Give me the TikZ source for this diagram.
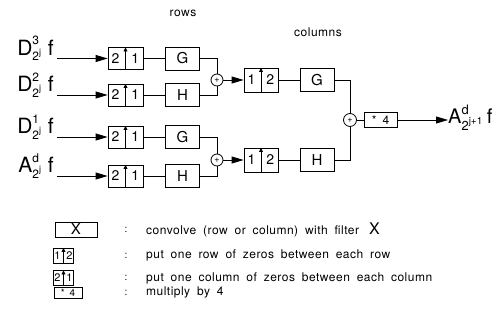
\documentclass[tikz,border=0pt]{standalone}
\usepackage{amsmath}
\usepackage{fontspec}
\setmainfont{TeX Gyre Heros}
\newfontfamily\legendfont[LetterSpace=4, WordSpace=1.8]{TeX Gyre Heros}
\usepackage{tikz}
\usetikzlibrary{shapes.geometric, arrows.meta}
\DeclareMathSizes{21}{21}{12}{9}
\DeclareMathSizes{20}{20}{13}{10}

\newcommand{\bandlab}[2]{{\fontsize{21}{21}\selectfont$\text{#1}^{\text{#2}}_{\text{2}^{\text{j}}}\ \text{f}$}}

\tikzstyle{filt} = [rectangle, draw=black, line width=0.8pt, minimum width=34pt, minimum height=23pt, inner sep=0pt, font=\fontsize{15}{15}\selectfont]
\tikzstyle{upbox} = [rectangle, draw=black, line width=0.8pt, minimum width=35pt, minimum height=22pt, inner sep=0pt, font=\fontsize{14}{14}\selectfont,
  path picture={\draw[line width=0.8pt, -{Triangle[length=4pt,width=4pt]}] (path picture bounding box.south) -- (path picture bounding box.north);}]
\tikzstyle{upkey} = [upbox, minimum width=20pt, minimum height=15pt, font=\fontsize{11}{11}\selectfont]
\tikzstyle{sum} = [circle, draw=black, line width=0.8pt, minimum size=12pt, inner sep=0pt, font=\fontsize{9}{9}\selectfont]
\tikzstyle{lab} = [inner sep=0pt]
\tikzstyle{heading} = [inner sep=0pt, font=\legendfont\fontsize{12}{12}\selectfont]
\tikzstyle{keytext} = [inner sep=0pt, anchor=west, font=\legendfont\fontsize{12}{12}\selectfont]
\tikzstyle{line} = [line width=0.8pt]
\tikzstyle{arrow} = [line width=0.8pt, -{Triangle[length=12pt,width=7pt]}]

\begin{document}
\begin{tikzpicture}[x=1pt, y=1pt, node distance=57pt]
\useasboundingbox (0,0) rectangle (501,331);

\node (rows) [heading] at (183,318) {rows};

\node (cols) [heading] at (318,299) {columns};

% row stage
\node (up1) [upbox] at (125.5,272.5) {2\hspace{12pt}1};

\node (up2) [upbox, below of=up1, yshift=20.5pt] {2\hspace{12pt}1};

\node (up3) [upbox, below of=up2, yshift=15pt] {2\hspace{12pt}1};

\node (up4) [upbox, below of=up3, yshift=18pt] {2\hspace{12pt}1};

\node (g1) [filt, right of=up1] {G};

\node (h1) [filt, right of=up2] {H};

\node (g2) [filt, right of=up3] {G};

\node (h2) [filt, right of=up4] {H};

\node (d3) [lab, anchor=base east] at (54,275.5) {\bandlab{D}{3}};

\node (d2) [lab, anchor=base east] at (54,239) {\bandlab{D}{2}};

\node (d1) [lab, anchor=base east] at (54,197) {\bandlab{D}{1}};

\node (ad) [lab, anchor=base east] at (54,158) {\bandlab{A}{d}};

\node (sum1) [sum] at (217,251) {+};

\node (sum2) [sum] at (217,171) {+};

% column stage
\node (cup1) [upbox, minimum width=34pt, minimum height=24pt] at (261,251) {1\hspace{11pt}2};

\node (cup2) [upbox, minimum width=34pt, minimum height=24pt] at (261,171) {1\hspace{11pt}2};

\node (cg) [filt, right of=cup1, xshift=-1pt] {G};

\node (ch) [filt, right of=cup2, xshift=-1pt] {H};

\node (sum3) [sum, minimum size=13pt] at (350,211) {+};

\node (mul) [rectangle, draw=black, line width=0.8pt, minimum width=33pt, minimum height=15pt, inner sep=0pt, font=\fontsize{12}{12}\selectfont] at (380.5,211) {*\hspace{6pt}4};

\node (out) [lab, anchor=base west] at (448,207) {\fontsize{20}{20}\selectfont$\text{A}^{\text{d}}_{\text{2}^{\text{j+1}}}\,\text{f}$};

\draw [arrow] (up1.west -| d3.east) [shorten <=3pt] -- (up1.west);

\draw [arrow] (up2.west -| d2.east) [shorten <=3pt] -- (up2.west);

\draw [arrow] (up3.west -| d1.east) [shorten <=3pt] -- (up3.west);

\draw [arrow] (up4.west -| ad.east) [shorten <=3pt] -- (up4.west);

\draw [line] (up1) -- (g1);

\draw [line] (up2) -- (h1);

\draw [line] (up3) -- (g2);

\draw [line] (up4) -- (h2);

\draw [line] (g1.east) -| (sum1.north);

\draw [line] (h1.east) -| (sum1.south);

\draw [line] (g2.east) -| (sum2.north);

\draw [line] (h2.east) -| (sum2.south);

\draw [arrow] (sum1) -- (cup1);

\draw [arrow] (sum2) -- (cup2);

\draw [line] (cup1) -- (cg);

\draw [line] (cup2) -- (ch);

\draw [line] (cg.east) -| (sum3.north);

\draw [line] (ch.east) -| (sum3.south);

\draw [line] (sum3) -- (mul);

\draw [arrow] (mul.east) -- (mul.east -| out.west);

% legend
\node (kx) [filt, minimum width=42pt, minimum height=15pt] at (76,101.5) {X};

\node (k12) [upkey] at (63.5,75.5) {1\hspace{6pt}2};

\node (k21) [upkey] at (63.5,53) {2\hspace{6pt}1};

\node (k4) [rectangle, draw=black, line width=0.8pt, minimum width=28pt, minimum height=11pt, inner sep=0pt, font=\fontsize{10}{10}\selectfont] at (68,38.5) {*\hspace{5pt}4};

\node (c1) [lab] at (126,101.5) {:};

\node (c2) [lab] at (126,75.5) {:};

\node (c3) [lab] at (126,53) {:};

\node (c4) [lab] at (126,38.5) {:};

\node (t1) [keytext] at (146,101.5) {convolve (row or column) with filter\hspace{10pt}{\fontsize{16}{16}\selectfont X}};

\node (t2) [keytext] at (146,75.5) {put one row of zeros between each row};

\node (t3) [keytext] at (146,53) {put one column of zeros between each column};

\node (t4) [keytext] at (146,38.5) {multiply by 4};

\end{tikzpicture}
\end{document}
